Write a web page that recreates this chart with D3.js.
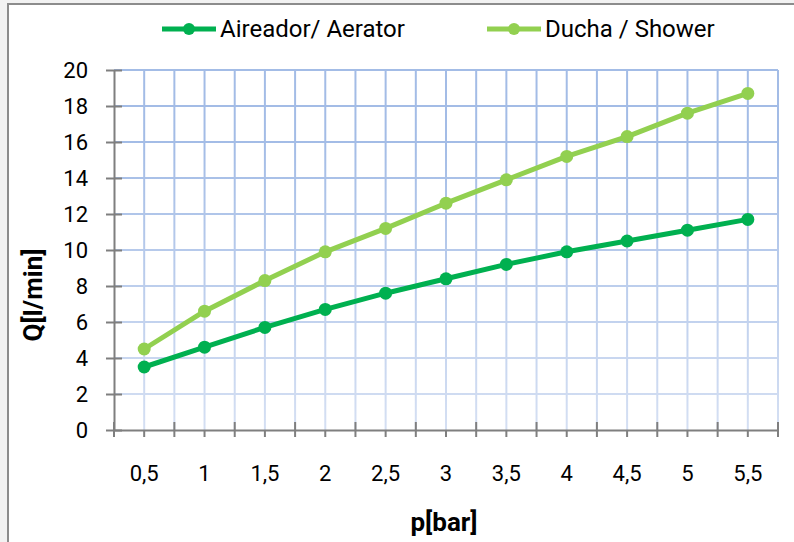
<!DOCTYPE html>
<html>
<head>
<meta charset="utf-8">
<script src="https://cdn.jsdelivr.net/npm/d3@7"></script>
<style>
  body { margin: 0; background: #f2f2f2; }
  text { font-family: Roboto, "Liberation Sans", sans-serif; fill: #000; }
</style>
</head>
<body>
<div id="chart"></div>
<script>
// data
var pressure = ["0,5", "1", "1,5", "2", "2,5", "3", "3,5", "4", "4,5", "5", "5,5"];
var aerator = [3.5, 4.6, 5.7, 6.7, 7.6, 8.4, 9.2, 9.9, 10.5, 11.1, 11.7];
var shower = [4.5, 6.6, 8.3, 9.9, 11.2, 12.6, 13.9, 15.2, 16.3, 17.6, 18.7];
var yTicks = [0, 2, 4, 6, 8, 10, 12, 14, 16, 18, 20];
var seriesNames = ["Aireador/ Aerator", "Ducha / Shower"];
var seriesColors = ["#00b050", "#92d050"];

var width = 794, height = 542;
var margin = { left: 114, right: 16, top: 70, bottom: 112 };
var plotW = width - margin.left - margin.right;
var plotH = height - margin.top - margin.bottom;

var svg = d3.select("#chart").append("svg")
    .attr("width", width)
    .attr("height", height);

// chart frame
svg.append("rect")
    .attr("x", 8).attr("y", 4)
    .attr("width", width).attr("height", height)
    .attr("fill", "#fff")
    .attr("stroke", "#8c8c8c")
    .attr("stroke-width", 2);

var grad = svg.append("defs").append("linearGradient")
    .attr("id", "gridGrad")
    .attr("gradientUnits", "userSpaceOnUse")
    .attr("x1", 0).attr("y1", margin.top)
    .attr("x2", 0).attr("y2", margin.top + plotH);
grad.append("stop").attr("offset", "0%").attr("stop-color", "#a3bce6");
grad.append("stop").attr("offset", "100%").attr("stop-color", "#e1e8f6");

var g = svg.append("g")
    .attr("transform", "translate(" + margin.left + "," + margin.top + ")");

var x = d3.scaleBand().domain(pressure).range([0, plotW]);
var y = d3.scaleLinear().domain([0, 20]).range([plotH, 0]);

// grid: horizontal at y ticks, vertical at category edges and centres
var gridG = g.append("g").attr("stroke", "url(#gridGrad)").attr("stroke-width", 2);
gridG.selectAll(".hg").data(yTicks.slice(1)).enter().append("line")
    .attr("x1", 0).attr("x2", plotW)
    .attr("y1", function (d) { return y(d); })
    .attr("y2", function (d) { return y(d); });
var vPos = [];
pressure.forEach(function (p) {
    vPos.push(x(p) + x.bandwidth() / 2);
    vPos.push(x(p) + x.bandwidth());
});
gridG.selectAll(".vg").data(vPos).enter().append("line")
    .attr("x1", function (d) { return d; })
    .attr("x2", function (d) { return d; })
    .attr("y1", 0).attr("y2", plotH);

// axes
var yAxis = d3.axisLeft(y).tickValues(yTicks).tickSizeInner(8).tickSizeOuter(0).tickPadding(18);
var yG = g.append("g").attr("class", "y axis").call(yAxis);
yG.select(".domain").attr("stroke", "#7f7f7f").attr("stroke-width", 2);
yG.selectAll(".tick line").attr("stroke", "#7f7f7f").attr("stroke-width", 2).attr("x2", 8).attr("x1", -8);
yG.selectAll(".tick text").style("font-size", "22px").attr("x", -26);

var xAxis = d3.axisBottom(x).tickSize(7).tickSizeOuter(0).tickPadding(28);
var xG = g.append("g").attr("class", "x axis")
    .attr("transform", "translate(0," + plotH + ")")
    .call(xAxis);
xG.select(".domain").attr("stroke", "#7f7f7f").attr("stroke-width", 2);
xG.selectAll(".tick line").attr("stroke", "#7f7f7f").attr("stroke-width", 2);
xG.selectAll(".tick text").style("font-size", "22px");
// long ticks at category boundaries
var edges = [0].concat(pressure.map(function (p) { return x(p) + x.bandwidth(); }));
xG.selectAll(".edge").data(edges).enter().append("line")
    .attr("x1", function (d) { return d; })
    .attr("x2", function (d) { return d; })
    .attr("y1", -8).attr("y2", 7)
    .attr("stroke", "#7f7f7f").attr("stroke-width", 2);

// series
var all = [aerator, shower];
var line = d3.line()
    .x(function (d, i) { return x(pressure[i]) + x.bandwidth() / 2; })
    .y(function (d) { return y(d); });
all.forEach(function (vals, k) {
    var sg = g.append("g");
    sg.append("path").datum(vals)
        .attr("fill", "none")
        .attr("stroke", seriesColors[k])
        .attr("stroke-width", 5)
        .attr("stroke-linejoin", "round")
        .attr("d", line);
    sg.selectAll("circle").data(vals).enter().append("circle")
        .attr("cx", function (d, i) { return x(pressure[i]) + x.bandwidth() / 2; })
        .attr("cy", function (d) { return y(d); })
        .attr("r", 6.5)
        .attr("fill", seriesColors[k]);
});

// legend
var legendX = [162, 487];
seriesNames.forEach(function (name, k) {
    var lg = svg.append("g").attr("transform", "translate(" + legendX[k] + ",29)");
    lg.append("line").attr("x1", 0).attr("x2", 54)
        .attr("stroke", seriesColors[k]).attr("stroke-width", 5);
    lg.append("circle").attr("cx", 27).attr("r", 6).attr("fill", seriesColors[k]);
    lg.append("text").attr("x", 58).attr("y", 8)
        .style("font-size", "24px")
        .text(name);
});

// axis titles
svg.append("text")
    .attr("x", margin.left + plotW / 2 - 2).attr("y", 531)
    .attr("text-anchor", "middle")
    .style("font-size", "26px").style("font-weight", "bold")
    .text("p[bar]");
svg.append("text")
    .attr("transform", "translate(42,295) rotate(-90)")
    .attr("text-anchor", "middle")
    .style("font-size", "26px").style("font-weight", "bold")
    .text("Q[l/min]");
</script>
</body>
</html>
